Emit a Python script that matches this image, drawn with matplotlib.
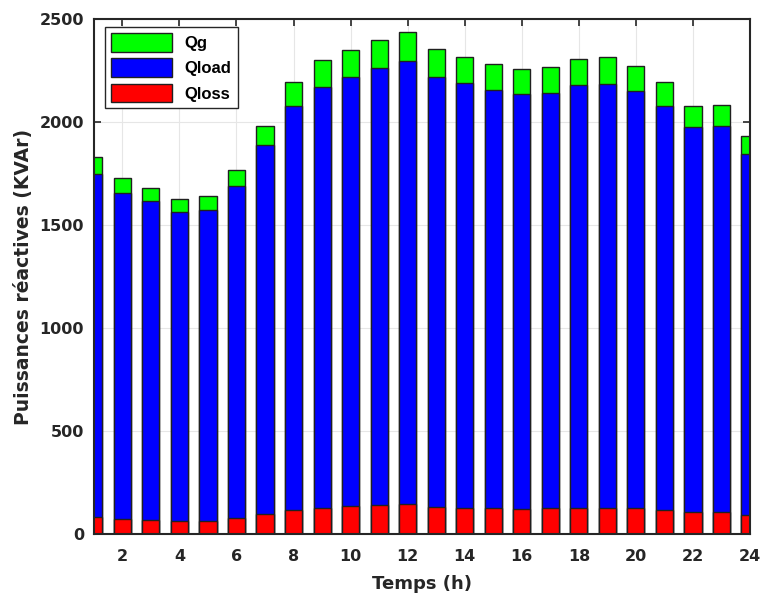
import numpy as np
import matplotlib.pyplot as plt

plt.rcParams['font.family'] = ['DejaVu Sans']
plt.rcParams['font.weight'] = 'bold'

# hourly reactive powers (kVAr)
hours = list(range(1, 25))
qg = [1829, 1728, 1681, 1626, 1639, 1765, 1981, 2196, 2299, 2349, 2399, 2439,
      2354, 2318, 2281, 2257, 2265, 2307, 2315, 2273, 2194, 2078, 2083, 1934]
qload = [1749, 1657, 1615, 1565, 1575, 1691, 1889, 2079, 2171, 2218, 2262, 2296,
         2220, 2189, 2155, 2136, 2142, 2179, 2187, 2150, 2078, 1976, 1979, 1846]
qloss = [81, 71, 66, 63, 64, 76, 95, 115, 127, 134, 139, 144,
         132, 127, 124, 122, 124, 127, 127, 124, 115, 105, 105, 90]
xticks = list(range(2, 25, 2))
yticks = [0, 500, 1000, 1500, 2000, 2500]

fig = plt.figure(figsize=(7.63, 5.96), dpi=100)
ax = fig.add_axes([0.123, 0.104, 0.860, 0.864])

w = 0.6
ec = '#202020'
ax.bar(hours, qg, width=w, color='#00FF00', edgecolor=ec, linewidth=1, label='Qg', zorder=2)
ax.bar(hours, qload, width=w, color='#0000FF', edgecolor=ec, linewidth=1, label='Qload', zorder=3)
ax.bar(hours, qloss, width=w, color='#FF0000', edgecolor=ec, linewidth=1, label='Qloss', zorder=4)

ax.set_xlim(1, 24)
ax.set_ylim(0, 2500)
ax.set_xticks(xticks)
ax.set_yticks(yticks)
ax.grid(True, color='#e6e6e6', linewidth=0.8, zorder=0)
ax.set_axisbelow(True)
ax.tick_params(direction='in', top=True, right=True, length=5, width=1.2,
               labelsize=11.5, colors='#262626')
ax.tick_params(axis='x', pad=11)
ax.tick_params(axis='y', pad=7)
for lab in ax.get_xticklabels() + ax.get_yticklabels():
    lab.set_fontweight('bold')
for s in ax.spines.values():
    s.set_linewidth(1.5)
    s.set_color('#262626')
    s.set_zorder(6)

ax.set_xlabel('Temps (h)', fontsize=13, fontweight='bold', color='#262626', labelpad=8)
ax.set_ylabel('Puissances réactives (KVAr)', fontsize=13.5, fontweight='bold', color='#262626', labelpad=5)

leg = ax.legend(loc='upper left', bbox_to_anchor=(0.0168, 0.9845), borderaxespad=0,
                prop={'family': 'Liberation Sans', 'weight': 'bold', 'size': 12},
                handlelength=3.7, handleheight=1.35, handletextpad=0.75,
                labelspacing=0.4, borderpad=0.35, fancybox=False,
                edgecolor='#262626', framealpha=1)
leg.get_frame().set_linewidth(1)

fig.savefig('out.png', dpi=100)
